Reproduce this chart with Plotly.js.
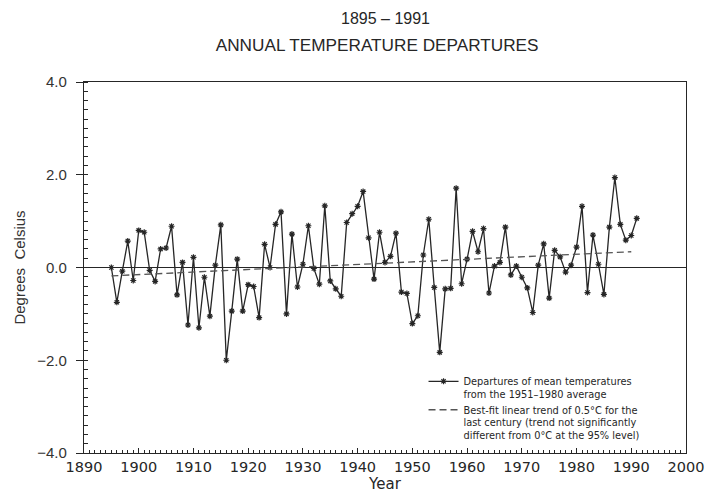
<!DOCTYPE html>
<html><head><meta charset="utf-8">
<script src="https://cdn.plot.ly/plotly-3.0.1.min.js"></script>
<style>html,body{margin:0;padding:0;background:#fff}#chart{width:717px;height:493px}</style>
</head><body><div id="chart"></div>
<script>
const years = [1895,1896,1897,1898,1899,1900,1901,1902,1903,1904,1905,1906,1907,1908,1909,
1910,1911,1912,1913,1914,1915,1916,1917,1918,1919,1920,1921,1922,1923,1924,1925,1926,1927,1928,1929,
1930,1931,1932,1933,1934,1935,1936,1937,1938,1939,1940,1941,1942,1943,1944,1945,1946,1947,1948,1949,
1950,1951,1952,1953,1954,1955,1956,1957,1958,1959,1960,1961,1962,1963,1964,1965,1966,1967,1968,1969,
1970,1971,1972,1973,1974,1975,1976,1977,1978,1979,1980,1981,1982,1983,1984,1985,1986,1987,1988,1989,
1990,1991];
const departures = [0.00,-0.75,-0.08,0.57,-0.28,0.80,0.76,-0.06,-0.30,0.40,0.42,0.89,-0.59,0.11,-1.24,
0.22,-1.30,-0.21,-1.05,0.05,0.92,-2.00,-0.94,0.18,-0.94,-0.37,-0.41,-1.08,0.50,0.00,0.93,1.20,-1.00,0.72,-0.42,
0.07,0.90,-0.02,-0.36,1.33,-0.29,-0.46,-0.62,0.97,1.16,1.32,1.64,0.64,-0.25,0.76,0.11,0.24,0.74,-0.53,-0.56,
-1.21,-1.04,0.27,1.04,-0.43,-1.83,-0.46,-0.45,1.71,-0.35,0.18,0.78,0.34,0.84,-0.55,0.03,0.11,0.87,-0.16,0.03,
-0.21,-0.44,-0.97,0.05,0.51,-0.66,0.37,0.23,-0.10,0.05,0.44,1.32,-0.54,0.70,0.07,-0.58,0.87,1.94,0.93,0.59,
0.69,1.06];
const trendYears = [1895, 1990];
const trendValues = [-0.18, 0.34];

const seriesName = "Departures of mean temperatures<br>from the 1951\u20131980 average";
const trendName = "Best-fit linear trend of 0.5\u00B0C for the<br>last century (trend not significantly<br>different from 0\u00B0C at the 95% level)";
const titleLine1 = "1895 \u2013 1991";
const titleLine2 = "ANNUAL TEMPERATURE DEPARTURES";
const xTitle = "Year";
const yTitle = "Degrees  Celsius";

const ink = "#262626";
const plotFont = "DejaVu Sans, Liberation Sans, sans-serif";
const helv = "Liberation Sans, Arial, sans-serif";

const traces = [
  {x: years, y: departures, type: "scatter", mode: "lines+markers", name: seriesName,
   line: {color: ink, width: 1.3},
   marker: {symbol: "asterisk-open", size: 5, color: ink, line: {color: ink, width: 1.2}}},
  {x: trendYears, y: trendValues, type: "scatter", mode: "lines", name: trendName,
   line: {color: "#555", width: 1.3, dash: "7px,4px"}}
];

const layout = {
  width: 717, height: 493,
  margin: {l: 84, r: 31, t: 82, b: 40},
  paper_bgcolor: "#fff", plot_bgcolor: "#fff",
  showlegend: true,
  title: {text: titleLine2, font: {family: helv, size: 17.2, color: ink}, x: 0.526, xanchor: "center", y: 0.908, yanchor: "middle"},
  annotations: [
    {text: titleLine1, xref: "paper", yref: "paper", x: 0.5, y: 1, yshift: 64, showarrow: false,
     font: {family: helv, size: 16, color: ink}, xanchor: "center", yanchor: "middle"}
  ],
  legend: {x: 0.564, y: 0.228, xanchor: "left", yanchor: "top", bgcolor: "rgba(0,0,0,0)",
    font: {family: plotFont, size: 9.8, color: ink}, valign: "top", tracegroupgap: 0, itemwidth: 30},
  xaxis: {range: [1890, 2000], tick0: 1890, dtick: 10, ticks: "inside", ticklen: 5, tickcolor: ink,
    minor: {dtick: 1, ticks: "inside", ticklen: 3, tickcolor: ink},
    showline: true, mirror: true, linecolor: ink, linewidth: 1.2, showgrid: false, zeroline: false,
    tickfont: {family: plotFont, size: 14.5, color: ink},
    title: {text: xTitle, font: {family: plotFont, size: 15, color: ink}, standoff: 2}, automargin: false},
  yaxis: {range: [-4, 4], tick0: 0, dtick: 2, tickformat: ".1f", ticks: "outside", ticklen: 7, tickcolor: ink,
    ticklabelstandoff: 6,
    minor: {dtick: 0.2, ticks: "inside", ticklen: 4, tickcolor: ink},
    showline: true, mirror: true, linecolor: ink, linewidth: 1.2, showgrid: false,
    zeroline: true, zerolinecolor: ink, zerolinewidth: 1.2,
    tickfont: {family: helv, size: 15, color: "#333"},
    title: {text: yTitle, font: {family: helv, size: 15, color: "#333"}, standoff: 8}, automargin: false}
};

Plotly.newPlot("chart", traces, layout, {displayModeBar: false, staticPlot: true});
</script>
</body></html>
